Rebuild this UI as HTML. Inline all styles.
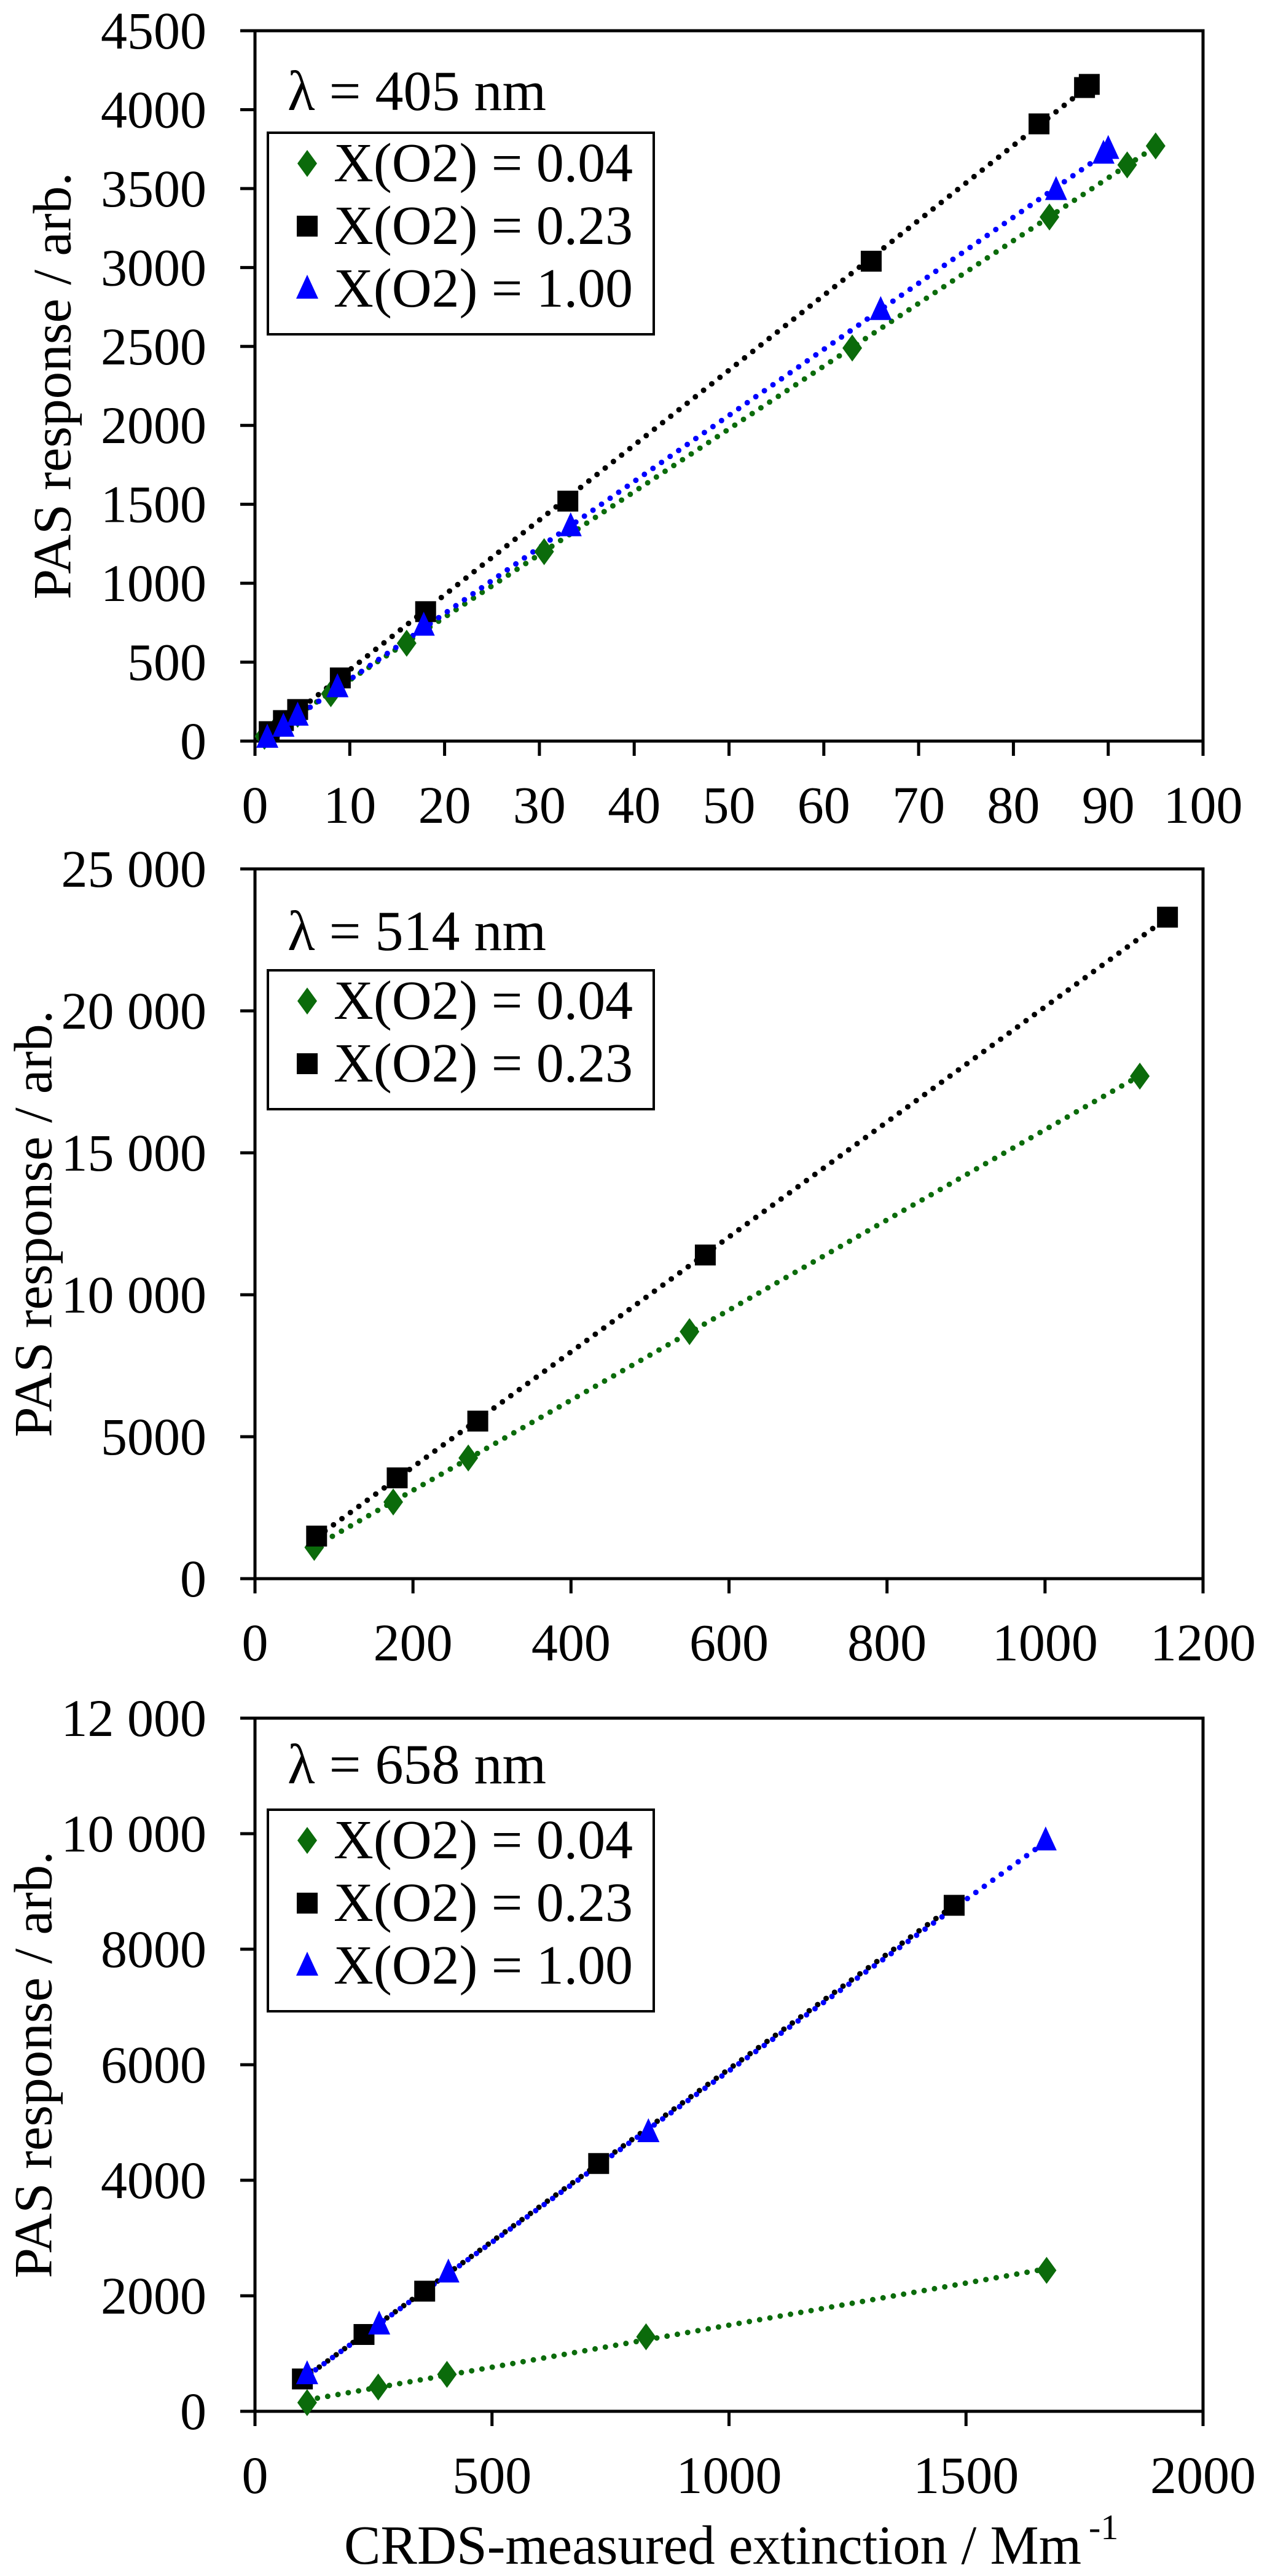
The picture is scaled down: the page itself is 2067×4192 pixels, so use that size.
<!DOCTYPE html>
<html><head><meta charset="utf-8"><style>
html,body{margin:0;padding:0;background:#fff;}
svg{display:block;font-family:"Liberation Serif",serif;}
</style></head><body>
<svg id="chart" width="2067" height="4192" viewBox="0 0 2067 4192" xmlns="http://www.w3.org/2000/svg"></svg>
<script>
// ---- data ----
const p1Green = [[1,30],[2.5,100],[4.5,170],[8,300],[16,620],[30.5,1200],[63,2490],[83.8,3320],[92,3650],[95,3770]];
const p1Black = [[1.5,60],[3,130],[4.5,200],[9,400],[18,820],[33,1520],[65,3040],[82.7,3910],[87.5,4140],[88,4160]];
const p1Blue  = [[1.3,20],[3,90],[4.5,160],[8.7,340],[17.8,730],[33.3,1360],[66,2730],[84.5,3490],[89.5,3720],[90,3750]];
const p2Green = [[75,1100],[175,2700],[270,4250],[550,8700],[1120,17700]];
const p2Black = [[78,1500],[180,3550],[282,5550],[570,11400],[1155,23300]];
const p3Green = [[110,150],[260,420],[405,640],[825,1290],[1670,2440]];
const p3Black = [[100,560],[230,1330],[358,2080],[725,4290],[1475,8760]];
const p3Blue  = [[110,640],[262,1500],[408,2400],[830,4830],[1668,9880]];
const p1XTicks = [0,10,20,30,40,50,60,70,80,90,100];
const p1YTicks = [0,500,1000,1500,2000,2500,3000,3500,4000,4500];
const p2XTicks = [0,200,400,600,800,1000,1200];
const p2YTicks = [0,5000,10000,15000,20000,25000];
const p2YLabels = ["0","5000","10 000","15 000","20 000","25 000"];
const p3XTicks = [0,500,1000,1500,2000];
const p3YTicks = [0,2000,4000,6000,8000,10000,12000];
const p3YLabels = ["0","2000","4000","6000","8000","10 000","12 000"];
const legendLabels = ["X(O2) = 0.04","X(O2) = 0.23","X(O2) = 1.00"];

const NS="http://www.w3.org/2000/svg";
const svg=document.getElementById('chart');
const GREEN="#0b6b0b", BLACK="#000", BLUE="#0000ff";
function mk(tag,attrs,parent){const e=document.createElementNS(NS,tag);for(const k in attrs)e.setAttribute(k,attrs[k]);(parent||svg).appendChild(e);return e;}

function marker(g,type,x,y,color){
  let e;
  if(type==='sq') e=mk('rect',{x:x-17,y:y-17,width:34,height:34,fill:color},g);
  else if(type==='dia') e=mk('polygon',{points:`${x},${y-22} ${x+16},${y} ${x},${y+22} ${x-16},${y}`,fill:color},g);
  else e=mk('polygon',{points:`${x},${y-23} ${x+18},${y+16} ${x-18},${y+16}`,fill:color},g);
  return e;
}

function panel(o){
  const g=mk('g',{});
  
  
  const L=415,R=1958,T=o.top,B=o.bottom;
  const sx=v=>L+(v-o.xmin)/(o.xmax-o.xmin)*(R-L);
  const sy=v=>B-(v-o.ymin)/(o.ymax-o.ymin)*(B-T);
  const frame=mk('rect',{x:L,y:T,width:R-L,height:B-T,fill:'none',stroke:'#000','stroke-width':5},g);
  
  
  o.xt.forEach(v=>{
    const t=mk('line',{x1:sx(v),x2:sx(v),y1:B,y2:B+24,stroke:'#000','stroke-width':5},g);
    
    
    const tx=mk('text',{x:sx(v),y:B+133,'font-size':86,'text-anchor':'middle'},g);
    tx.textContent=String(v);
    
    
  });
  o.yt.forEach((v,i)=>{
    const t=mk('line',{x1:L-24,x2:L,y1:sy(v),y2:sy(v),stroke:'#000','stroke-width':5},g);
    
    
    const tx=mk('text',{x:336,y:sy(v)+29,'font-size':86,'text-anchor':'end'},g);
    tx.textContent=o.yl?o.yl[i]:String(v);
    
    
  });
  const cy=(T+B)/2;
  const yt=mk('text',{x:o.ytx,y:cy,'font-size':88,'text-anchor':'middle',transform:`rotate(-90 ${o.ytx} ${cy})`,textLength:695,lengthAdjust:'spacingAndGlyphs','dominant-baseline':'central'},g);
  yt.textContent='PAS response / arb.';
  
  
  o.series.forEach(s=>{
    const pts=s.data;
    const n=pts.length;let mx=0,my=0;pts.forEach(p=>{mx+=p[0];my+=p[1];});mx/=n;my/=n;
    let num=0,den=0;pts.forEach(p=>{num+=(p[0]-mx)*(p[1]-my);den+=(p[0]-mx)**2;});
    const m=num/den,b=my-m*mx;
    const x0=Math.min(...pts.map(p=>p[0])),x1=Math.max(...pts.map(p=>p[0]));
    const ln=mk('line',{x1:sx(x0),y1:sy(m*x0+b),x2:sx(x1),y2:sy(m*x1+b),stroke:s.color,'stroke-width':9,'stroke-linecap':'round','stroke-dasharray':'0 17'},g);
    
    
  });
  o.series.forEach(s=>{
    s.data.forEach(p=>{
      const e=marker(g,s.type,sx(p[0]),sy(p[1]),s.color);
      
      
    });
  });
  const lam=mk('text',{x:468,y:o.lamY,'font-size':92},g);
  lam.textContent='λ = '+o.lam+' nm';
  
  
  const lg=mk('g',{},g);
  
  
  const h=o.series.length*102+22;
  mk('rect',{x:436,y:o.legTop,width:628,height:h,fill:'#fff',stroke:'#000','stroke-width':4},lg);
  o.series.forEach((s,i)=>{
    const by=o.legTop+79+i*102;
    const e=marker(lg,s.type,500,by-29,s.color);
    
    
    const t=mk('text',{x:543,y:by,'font-size':90,textLength:487,lengthAdjust:'spacingAndGlyphs'},lg);
    t.textContent=legendLabels[s.li];
    
    
  });
}

panel({name:'panel-405nm',top:50,bottom:1206,xmin:0,xmax:100,ymin:0,ymax:4500,xt:p1XTicks,yt:p1YTicks,ytx:86,lam:'405',lamY:179,legTop:216,
  series:[{name:'o2-0.04',data:p1Green,color:GREEN,type:'dia',li:0},{name:'o2-0.23',data:p1Black,color:BLACK,type:'sq',li:1},{name:'o2-1.00',data:p1Blue,color:BLUE,type:'tri',li:2}]});
panel({name:'panel-514nm',top:1414,bottom:2569,xmin:0,xmax:1200,ymin:0,ymax:25000,xt:p2XTicks,yt:p2YTicks,yl:p2YLabels,ytx:55,lam:'514',lamY:1546,legTop:1579,
  series:[{name:'o2-0.04',data:p2Green,color:GREEN,type:'dia',li:0},{name:'o2-0.23',data:p2Black,color:BLACK,type:'sq',li:1}]});
panel({name:'panel-658nm',top:2796,bottom:3924,xmin:0,xmax:2000,ymin:0,ymax:12000,xt:p3XTicks,yt:p3YTicks,yl:p3YLabels,ytx:55,lam:'658',lamY:2902,legTop:2945,
  series:[{name:'o2-0.04',data:p3Green,color:GREEN,type:'dia',li:0},{name:'o2-0.23',data:p3Black,color:BLACK,type:'sq',li:1},{name:'o2-1.00',data:p3Blue,color:BLUE,type:'tri',li:2}]});

const xt=mk('text',{x:560,y:4172,'font-size':90,textLength:1200,lengthAdjust:'spacingAndGlyphs'});


xt.textContent='CRDS-measured extinction / Mm';
const sup=mk('text',{x:1772,y:4132,'font-size':58});


sup.textContent='-1';
</script>
</body></html>
